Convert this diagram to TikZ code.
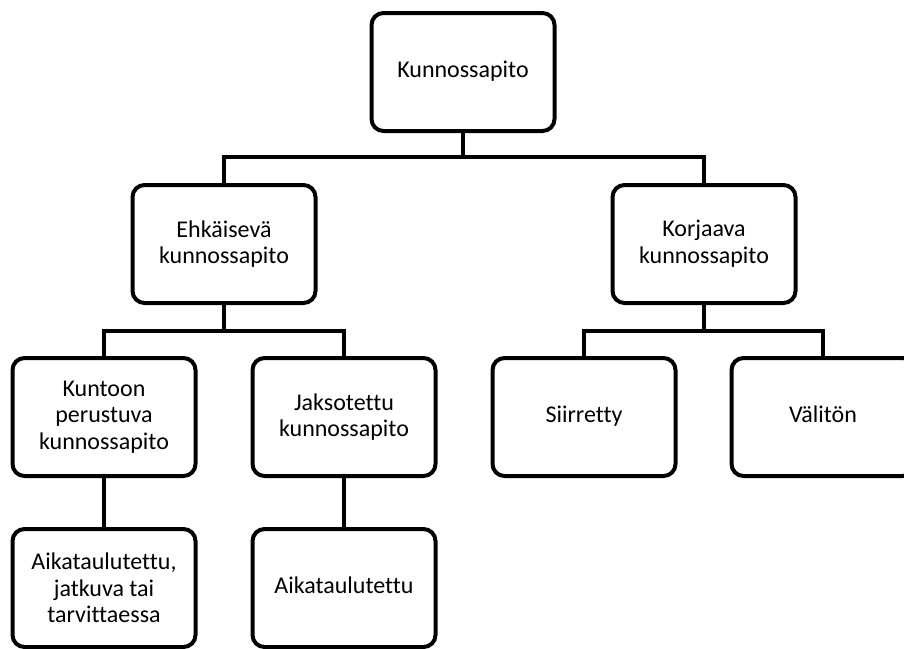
\documentclass[tikz,border=0pt]{standalone}
\usepackage{fontspec}
\setmainfont{Carlito}[Ligatures={NoCommon}]
\begin{document}
\begin{tikzpicture}[x=1pt,y=-1pt,
  box/.style={draw=black,line width=4pt,rounded corners=12pt,fill=white,
    minimum width=183pt,minimum height=118pt,align=center,inner sep=0pt,
    font=\fontsize{24}{26.7}\selectfont},
  oneline/.style={text height=16pt,text depth=5pt},
  link/.style={draw=black,line width=4pt,line join=miter}]
\useasboundingbox (0,0) rectangle (904,648);
\clip (0,0) rectangle (904,648);
\coordinate (bus1) at (463,157);
\coordinate (bus2) at (224,331);
\coordinate (bus3) at (704,331);
\node[box,oneline] (top) at (463,72) {Kunnossapito};
\node[box] (ehk) at (224,244) {Ehkäisevä\\kunnossapito};
\node[box] (kor) at (704,244) {Korjaava\\kunnossapito};
\node[box] (kun) at (104,417) {Kuntoon\\perustuva\\kunnossapito};
\node[box] (jak) at (344,417) {Jaksotettu\\kunnossapito};
\node[box,oneline] (sii) at (584,417) {Siirretty};
\node[box,oneline] (val) at (823,417) {Välitön};
\node[box] (ai1) at (104,588) {Aikataulutettu,\\jatkuva tai\\tarvittaessa};
\node[box,oneline] (ai2) at (344,588) {Aikataulutettu};
\draw[link] (top.south) -- (bus1);
\draw[link] (bus1) -| (ehk.north);
\draw[link] (bus1) -| (kor.north);
\draw[link] (ehk.south) -- (bus2);
\draw[link] (bus2) -| (kun.north);
\draw[link] (bus2) -| (jak.north);
\draw[link] (kor.south) -- (bus3);
\draw[link] (bus3) -| (sii.north);
\draw[link] (bus3) -| (val.north);
\draw[link] (kun.south) -- (ai1.north);
\draw[link] (jak.south) -- (ai2.north);
\end{tikzpicture}
\end{document}
